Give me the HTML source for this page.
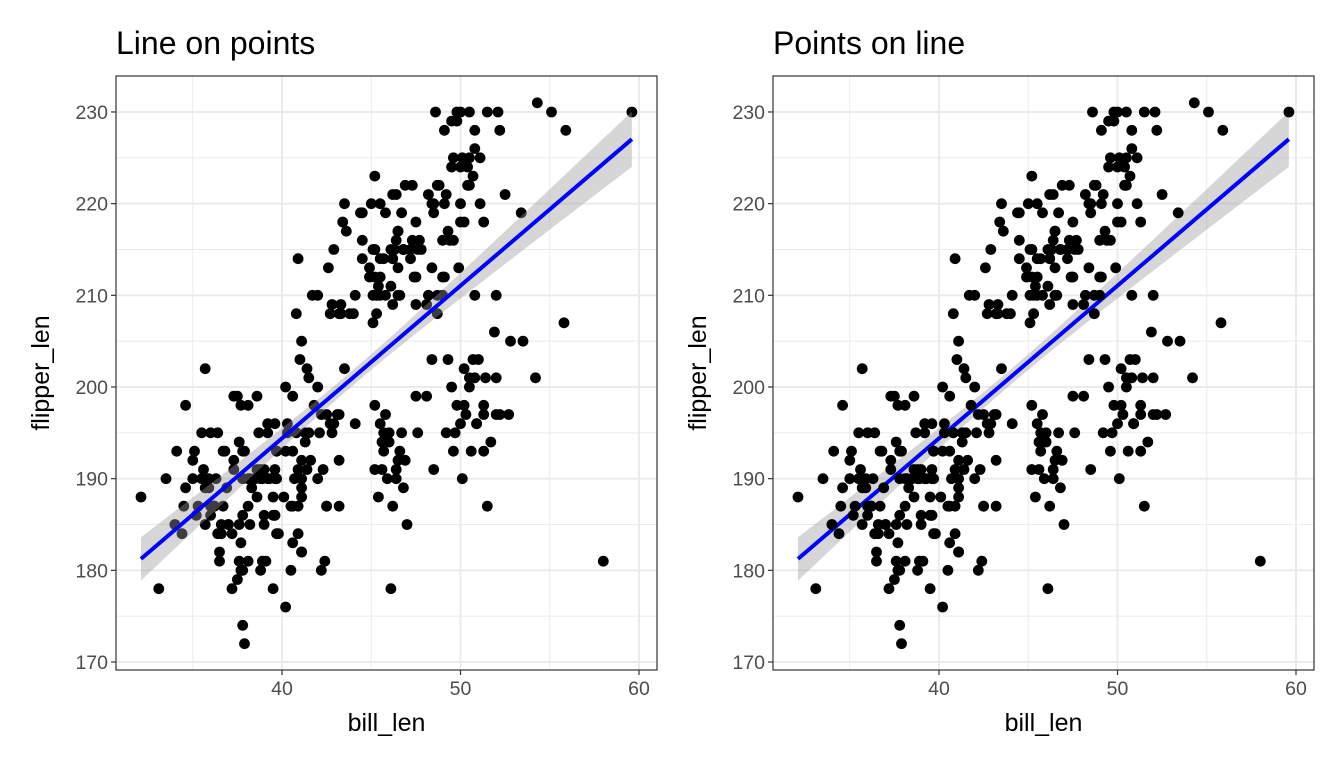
<!DOCTYPE html>
<html><head><meta charset="utf-8"><style>
html,body{margin:0;padding:0;background:#fff;}
svg{display:block;font-family:"Liberation Sans",sans-serif;}
</style></head><body>
<svg id="s" width="1344" height="768" viewBox="0 0 1344 768" xmlns="http://www.w3.org/2000/svg"></svg>
<script>
const A=[[39.1,181],[39.5,186],[40.3,195],[36.7,193],[39.3,190],[38.9,181],[39.2,195],[34.1,193],[42,190],[37.8,186],[37.8,180],[41.1,182],[38.6,191],[34.6,198],[36.6,185],[38.7,195],[42.5,197],[34.4,184],[46,194],[37.8,174],[37.7,180],[35.9,189],[38.2,185],[38.8,180],[35.3,187],[40.6,183],[40.5,187],[37.9,172],[40.5,180],[39.5,178],[37.2,178],[39.5,188],[40.9,184],[36.4,195],[39.2,196],[38.8,190],[42.2,180],[37.6,181],[39.8,184],[36.5,182],[40.8,195],[36,186],[44.1,196],[37,185],[39.6,190],[41.1,182],[37.5,179],[42.3,191],[39.6,186],[40.1,188],[35,190],[42,200],[34.5,187],[41.4,191],[39,186],[40.6,193],[36.5,181],[37.6,194],[35.7,185],[41.3,195],[37.6,185],[41.1,192],[36.4,184],[41.6,192],[35.5,195],[41.1,188],[35.9,190],[41.8,198],[33.5,190],[39.7,190],[39.6,196],[45.8,197],[35.5,190],[42.8,195],[40.9,191],[37.2,184],[36.2,187],[42.1,195],[34.6,189],[42.9,196],[36.7,187],[35.1,193],[37.3,191],[41.3,194],[36.3,190],[36.9,189],[38.3,189],[38.9,190],[35.7,202],[41.1,205],[34,185],[39.6,186],[36.2,187],[40.8,208],[38.1,190],[40.3,196],[33.1,178],[43.2,192],[35,192],[41,203],[37.7,183],[37.8,190],[37.9,193],[39.7,184],[38.6,199],[38.2,190],[38.1,181],[43.2,197],[38.1,198],[45.6,191],[39.7,193],[42.2,197],[39.6,191],[42.7,196],[38.6,188],[37.3,199],[35.7,189],[41.1,189],[36.2,187],[37.7,198],[40.2,176],[41.4,202],[35.2,186],[40.6,199],[38.8,191],[41.5,195],[39,191],[44.1,210],[38.5,190],[43.1,197],[36.8,193],[37.5,199],[38.1,187],[41.1,190],[35.6,191],[40.2,200],[37,185],[39.7,193],[40.2,193],[40.6,187],[32.1,188],[40.7,190],[37.3,192],[39,185],[39.2,190],[36.6,184],[36,195],[37.8,193],[36,187],[41.5,201],
[46.1,211],[50,230],[48.7,210],[50,218],[47.6,215],[46.5,210],[45.4,211],[46.7,219],[43.3,209],[46.8,215],[40.9,214],[49,216],[45.5,214],[48.4,213],[45.8,210],[49.3,217],[42,210],[49.2,221],[46.2,209],[48.7,222],[50.2,218],[45.1,215],[46.5,213],[46.3,215],[42.9,215],[46.1,215],[44.5,216],[47.8,215],[48.2,210],[50,220],[47.3,222],[42.8,209],[45.1,207],[59.6,230],[49.1,220],[48.4,220],[42.6,213],[44.4,219],[44,208],[48.7,208],[42.7,208],[49.6,225],[45.3,210],[49.6,216],[50.5,222],[43.6,217],[45.5,210],[50.5,225],[44.9,213],[45.2,215],[46.6,210],[48.5,220],[45.1,210],[50.1,225],[46.5,217],[45,220],[43.8,208],[45.5,220],[43.2,208],[50.4,224],[45.3,208],[46.2,221],[45.7,214],[54.3,231],[45.8,219],[49.8,230],[46.2,214],[49.5,229],[43.5,220],[50.7,223],[47.7,216],[46.4,221],[48.2,221],[46.5,217],[46.4,216],[48.6,230],[47.5,209],[51.1,220],[45.2,215],[45.2,223],[49.1,212],[52.5,221],[47.4,212],[50,224],[44.9,212],[50.8,228],[43.4,218],[51.3,218],[47.5,212],[52.1,230],[47.5,218],[52.2,228],[45.5,212],[49.5,224],[44.5,214],[50.8,226],[49.4,216],[46.9,222],[48.4,203],[51.1,225],[48.5,219],[55.9,228],[47.2,215],[49.1,228],[47.3,216],[46.8,215],[41.7,210],[53.4,219],[43.3,208],[48.1,209],[50.5,230],[49.8,229],[51.5,230],[46.2,214],[55.1,230],[44.5,219],[48.8,222],[47.2,214],[46.8,215],[50.4,222],[45.2,212],[49.9,213],
[46.5,192],[50,196],[51.3,193],[45.4,188],[52.7,197],[45.2,198],[46.1,178],[51.3,197],[46,195],[51.3,198],[46.6,193],[51.7,194],[47,185],[52,201],[45.9,190],[50.5,201],[50.3,197],[58,181],[46.4,190],[49.2,195],[42.4,181],[48.5,191],[43.2,187],[50.6,193],[46.7,195],[52,197],[50.5,200],[49.5,200],[46.4,191],[52.8,205],[40.9,187],[54.2,201],[42.5,187],[51,203],[49.7,195],[47.5,199],[47.6,195],[52,210],[46.9,192],[53.5,205],[49,210],[46.2,187],[50.9,196],[45.5,196],[50.9,196],[50.8,201],[50.1,190],[49,212],[51.5,187],[49.8,198],[48.1,199],[51.4,201],[45.7,193],[50.7,203],[42.5,187],[52.2,197],[45.2,191],[49.3,203],[50.2,202],[45.6,194],[51.9,206],[46.8,189],[45.7,195],[55.8,207],[43.5,202],[49.6,193],[50.8,210],[50.2,198]];
const s=document.getElementById('s');let h='';
const Y=v=>662-(v-170)*9.167;
const F=x=>127.8+1.665*x;
function panel(off,title,lineFirst){
  const X=v=>282+off+(v-40)*17.85;
  const L=116+off,R=657+off,T=76,B=670;
  h+=`<text x="${L}" y="54" font-size="32" fill="#000">${title}</text>`;
  for(let v=35;v<=55;v+=10)h+=`<line x1="${X(v)}" x2="${X(v)}" y1="${T}" y2="${B}" stroke="#ebebeb" stroke-width="1"/>`;
  for(let v=175;v<=225;v+=10)h+=`<line x1="${L}" x2="${R}" y1="${Y(v)}" y2="${Y(v)}" stroke="#ebebeb" stroke-width="1"/>`;
  for(let v=40;v<=60;v+=10)h+=`<line x1="${X(v)}" x2="${X(v)}" y1="${T}" y2="${B}" stroke="#ebebeb" stroke-width="2"/>`;
  for(let v=170;v<=230;v+=10)h+=`<line x1="${L}" x2="${R}" y1="${Y(v)}" y2="${Y(v)}" stroke="#ebebeb" stroke-width="2"/>`;
  let up=[],lo=[];
  for(let x=32.1;x<=59.61;x+=0.5){const f=F(x);const se=Math.sqrt(0.7+0.0345*(x-44)*(x-44));up.push(`${X(x)},${Y(f+se)}`);lo.unshift(`${X(x)},${Y(f-se)}`);}
  const fit=`<polygon points="${up.concat(lo).join(' ')}" fill="#999" fill-opacity="0.4"/><line x1="${X(32.1)}" y1="${Y(F(32.1))}" x2="${X(59.6)}" y2="${Y(F(59.6))}" stroke="#0000ff" stroke-width="4"/>`;
  let pts='';for(const [a,b] of A)pts+=`<circle cx="${X(a).toFixed(1)}" cy="${Y(b).toFixed(1)}" r="5.4" fill="#000"/>`;
  h+=lineFirst?fit+pts:pts+fit;
  h+=`<rect x="${L}" y="${T}" width="${R-L}" height="${B-T}" fill="none" stroke="#333" stroke-width="1.2"/>`;
  for(let v=40;v<=60;v+=10)h+=`<line x1="${X(v)}" x2="${X(v)}" y1="${B}" y2="${B+5}" stroke="#333" stroke-width="1.2"/><text x="${X(v)}" y="${B+25}" font-size="19.5" fill="#4d4d4d" text-anchor="middle">${v}</text>`;
  for(let v=170;v<=230;v+=10)h+=`<line x1="${L-5}" x2="${L}" y1="${Y(v)}" y2="${Y(v)}" stroke="#333" stroke-width="1.2"/><text x="${L-8}" y="${Y(v)+7}" font-size="19.5" fill="#4d4d4d" text-anchor="end">${v}</text>`;
  h+=`<text x="${(L+R)/2}" y="731" font-size="25" fill="#000" text-anchor="middle">bill_len</text>`;
  h+=`<text transform="translate(${off+49},${(T+B)/2}) rotate(-90)" font-size="25" fill="#000" text-anchor="middle">flipper_len</text>`;
}
panel(0,'Line on points',false);
panel(657,'Points on line',true);
s.innerHTML=h;
</script>
</body></html>
